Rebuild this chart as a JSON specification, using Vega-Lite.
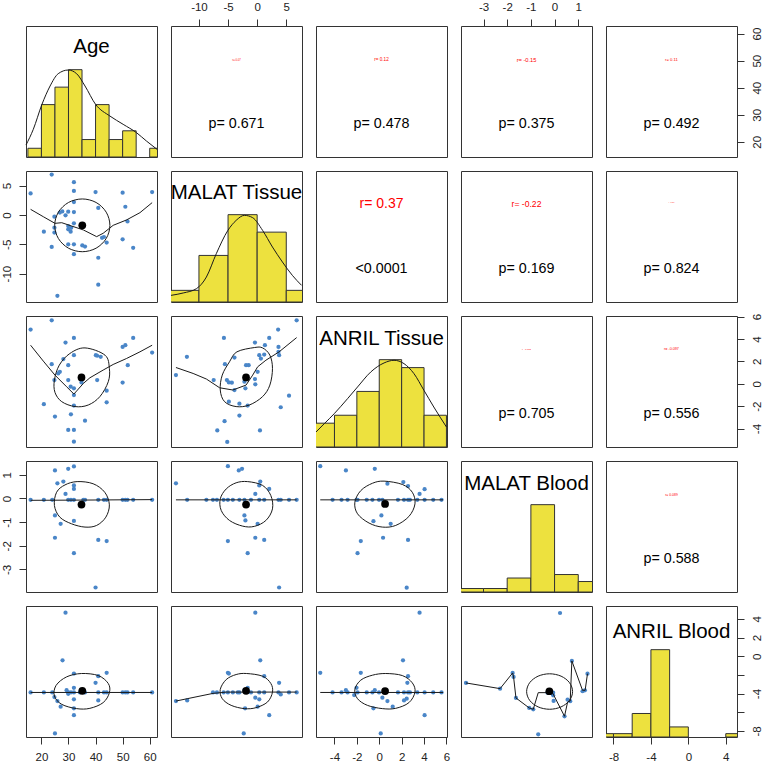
{
"$schema": "https://vega.github.io/schema/vega-lite/v6.json",
"padding": 0,
"columns": 5,
"spacing": 14,
"bounds": "flush",
"config": {
  "view": {"stroke": "#333333", "strokeWidth": 1},
  "font": "Liberation Sans",
  "axis": {"grid": false, "domain": false, "tickSize": 7, "tickColor": "#333333", "tickWidth": 1, "labelFontSize": 11.5, "labelColor": "#222222", "labelPadding": 7, "labelFont": "Liberation Sans", "labelFlush": false, "labelOverlap": false, "title": null},
  "text": {"font": "Liberation Sans", "baseline": "middle", "align": "center"}
},
"concat": [
{
  "width": 131, "height": 131,
  "encoding": {
    "x": {"field": "x", "type": "quantitative", "scale": {"domain": [14.3, 62.7], "nice": false, "zero": false}, "axis": null},
    "y": {"field": "y", "type": "quantitative", "scale": {"domain": [0, 15], "nice": false, "zero": false}, "axis": null}
  },
  "layer": [
    {"data": {"values": [{"x":15,"x2":20,"y":1},{"x":20,"x2":25,"y":6},{"x":25,"x2":30,"y":8},{"x":30,"x2":35,"y":10},{"x":35,"x2":40,"y":2},{"x":40,"x2":45,"y":6},{"x":45,"x2":50,"y":2},{"x":50,"x2":55,"y":3},{"x":60,"x2":65,"y":1}]},
     "mark": {"type": "bar", "fill": "#EDE13E", "stroke": "#333333", "strokeWidth": 1, "clip": true},
     "encoding": {"x2": {"field": "x2"}, "y2": {"datum": 0}}},
    {"data": {"values": [{"x":14.3,"y":1.37},{"x":17.0,"y":3.17},{"x":20.1,"y":5.95},{"x":23.2,"y":8.13},{"x":26.2,"y":9.54},{"x":29.9,"y":9.96},{"x":33.0,"y":9.54},{"x":36.1,"y":8.13},{"x":40.0,"y":6.03},{"x":45.3,"y":4.69},{"x":50.2,"y":3.74},{"x":55.1,"y":2.79},{"x":58.8,"y":1.83},{"x":62.7,"y":0.88}]},
     "mark": {"type": "line", "color": "#1a1a1a", "strokeWidth": 1, "interpolate": "monotone"}},
    {"data": {"values": [{"x":38.5,"y":12.6,"label":"Age"}]},
     "mark": {"type": "text", "fontSize": 20.5, "color": "black"},
     "encoding": {"text": {"field": "label", "type": "nominal"}}}
  ]
},
{
  "width": 131, "height": 131,
  "encoding": {
    "x": {"field": "x", "type": "quantitative", "scale": {"domain": [-14.8, 7.7], "nice": false, "zero": false}, "axis": {"orient": "top", "values": [-10,-5,0,5], "labelExpr": "datum.value + ''"}},
    "y": {"field": "y", "type": "quantitative", "scale": {"domain": [14.4, 62.8], "nice": false, "zero": false}, "axis": null},
    "text": {"field": "label", "type": "nominal"}
  },
  "layer": [
    {"data": {"values": [{"x":-3.55,"y":50.2,"label":"r= 0.07"}]}, "mark": {"type": "text", "color": "red", "fontSize": 2.7}},
    {"data": {"values": [{"x":-3.55,"y":26.6,"label":"p= 0.671"}]}, "mark": {"type": "text", "color": "black", "fontSize": 14.3}}
  ]
},
{
  "width": 131, "height": 131,
  "encoding": {
    "x": {"field": "x", "type": "quantitative", "scale": {"domain": [-5.65, 6.05], "nice": false, "zero": false}, "axis": null},
    "y": {"field": "y", "type": "quantitative", "scale": {"domain": [14.4, 62.8], "nice": false, "zero": false}, "axis": null},
    "text": {"field": "label", "type": "nominal"}
  },
  "layer": [
    {"data": {"values": [{"x":0.2,"y":50.2,"label":"r= 0.12"}]}, "mark": {"type": "text", "color": "red", "fontSize": 4.6}},
    {"data": {"values": [{"x":0.2,"y":26.6,"label":"p= 0.478"}]}, "mark": {"type": "text", "color": "black", "fontSize": 14.3}}
  ]
},
{
  "width": 131, "height": 131,
  "encoding": {
    "x": {"field": "x", "type": "quantitative", "scale": {"domain": [-3.95, 1.58], "nice": false, "zero": false}, "axis": {"orient": "top", "values": [-3,-2,-1,0,1], "labelExpr": "datum.value + ''"}},
    "y": {"field": "y", "type": "quantitative", "scale": {"domain": [14.4, 62.8], "nice": false, "zero": false}, "axis": null},
    "text": {"field": "label", "type": "nominal"}
  },
  "layer": [
    {"data": {"values": [{"x":-1.185,"y":50.2,"label":"r= -0.15"}]}, "mark": {"type": "text", "color": "red", "fontSize": 5.7}},
    {"data": {"values": [{"x":-1.185,"y":26.6,"label":"p= 0.375"}]}, "mark": {"type": "text", "color": "black", "fontSize": 14.3}}
  ]
},
{
  "width": 131, "height": 131,
  "encoding": {
    "x": {"field": "x", "type": "quantitative", "scale": {"domain": [-8.8, 5.2], "nice": false, "zero": false}, "axis": null},
    "y": {"field": "y", "type": "quantitative", "scale": {"domain": [14.4, 62.8], "nice": false, "zero": false}, "axis": {"orient": "right", "values": [20,30,40,50,60], "labelAngle": -90, "labelAlign": "center", "labelBaseline": "top", "labelExpr": "datum.value + ''"}},
    "text": {"field": "label", "type": "nominal"}
  },
  "layer": [
    {"data": {"values": [{"x":-1.8,"y":50.2,"label":"r= 0.11"}]}, "mark": {"type": "text", "color": "red", "fontSize": 4.2}},
    {"data": {"values": [{"x":-1.8,"y":26.6,"label":"p= 0.492"}]}, "mark": {"type": "text", "color": "black", "fontSize": 14.3}}
  ]
},
{
  "width": 131, "height": 131,
  "encoding": {
    "x": {"field": "x", "type": "quantitative", "scale": {"domain": [14.3, 62.7], "nice": false, "zero": false}, "axis": null},
    "y": {"field": "y", "type": "quantitative", "scale": {"domain": [-14.85, 7.5], "nice": false, "zero": false}, "axis": {"orient": "left", "values": [-10,-5,0,5], "labelAngle": -90, "labelAlign": "center", "labelBaseline": "bottom", "labelExpr": "datum.value + ''"}}
  },
  "layer": [
    {"data": {"values": [{"x":23.8,"y":6.9},{"x":16.0,"y":3.68},{"x":32.0,"y":5.6},{"x":32.0,"y":4.1},{"x":40.0,"y":3.9},{"x":50.0,"y":3.8},{"x":60.9,"y":3.9},{"x":51.0,"y":1.4},{"x":41.0,"y":1.2},{"x":32.0,"y":2.2},{"x":51.8,"y":-1.1},{"x":24.8,"y":-0.3},{"x":26.8,"y":0.4},{"x":27.7,"y":0.6},{"x":29.9,"y":0.56},{"x":32.0,"y":0.5},{"x":28.9,"y":-0.07},{"x":24.8,"y":-2.17},{"x":24.8,"y":-3.0},{"x":20.9,"y":-2.85},{"x":29.9,"y":-1.9},{"x":29.9,"y":-2.45},{"x":30.8,"y":-2.85},{"x":32.0,"y":-1.43},{"x":35.1,"y":-5.2},{"x":36.1,"y":-5.4},{"x":32.0,"y":-5.0},{"x":29.9,"y":-5.0},{"x":23.8,"y":-5.46},{"x":32.0,"y":-6.7},{"x":41.0,"y":-7.3},{"x":43.1,"y":-3.76},{"x":44.1,"y":-4.7},{"x":50.0,"y":-4.15},{"x":53.9,"y":-5.6},{"x":41.0,"y":-11.9},{"x":25.9,"y":-13.8},{"x":42.4,"y":-3.9},{"x":31.0,"y":-2.2}]},
     "mark": {"type": "circle", "size": 18, "color": "#4A86C8", "opacity": 1}},
    {"data": {"values": [{"x":16.0,"y":0.96},{"x":20.7,"y":-0.3},{"x":25.0,"y":-1.43},{"x":27.5,"y":-1.32},{"x":31.1,"y":-1.88},{"x":35.5,"y":-2.56},{"x":40.4,"y":-3.7},{"x":42.8,"y":-3.13},{"x":46.5,"y":-1.77},{"x":51.4,"y":-0.86},{"x":56.4,"y":0.39},{"x":60.9,"y":2.1}]},
     "mark": {"type": "line", "color": "#1a1a1a", "strokeWidth": 1}},
    {"data": {"values": [{"i":0,"x":45.3,"y":-1.77},{"i":1,"x":43.93,"y":0.48},{"i":2,"x":40.2,"y":2.13},{"i":3,"x":35.1,"y":2.73},{"i":4,"x":30.0,"y":2.13},{"i":5,"x":26.27,"y":0.48},{"i":6,"x":24.9,"y":-1.77},{"i":7,"x":26.27,"y":-4.02},{"i":8,"x":30.0,"y":-5.67},{"i":9,"x":35.1,"y":-6.27},{"i":10,"x":40.2,"y":-5.67},{"i":11,"x":43.93,"y":-4.02}]},
     "mark": {"type": "line", "color": "#1a1a1a", "strokeWidth": 1, "interpolate": "cardinal-closed"},
     "encoding": {"order": {"field": "i", "type": "quantitative"}}},
    {"data": {"values": [{"x":35.1,"y":-1.77}]},
     "mark": {"type": "circle", "size": 60, "color": "black", "opacity": 1}}
  ]
},
{
  "width": 131, "height": 131,
  "encoding": {
    "x": {"field": "x", "type": "quantitative", "scale": {"domain": [-14.8, 7.7], "nice": false, "zero": false}, "axis": null},
    "y": {"field": "y", "type": "quantitative", "scale": {"domain": [0, 22.5], "nice": false, "zero": false}, "axis": null}
  },
  "layer": [
    {"data": {"values": [{"x":-15,"x2":-10,"y":2},{"x":-10,"x2":-5,"y":8},{"x":-5,"x2":0,"y":15},{"x":0,"x2":5,"y":12},{"x":5,"x2":10,"y":2}]},
     "mark": {"type": "bar", "fill": "#EDE13E", "stroke": "#333333", "strokeWidth": 1, "clip": true},
     "encoding": {"x2": {"field": "x2"}, "y2": {"datum": 0}}},
    {"data": {"values": [{"x":-14.8,"y":1.14},{"x":-12.7,"y":1.55},{"x":-10.43,"y":2.29},{"x":-8.72,"y":4.29},{"x":-7.02,"y":8.3},{"x":-5.03,"y":12.3},{"x":-3.61,"y":14.02},{"x":-2.19,"y":14.88},{"x":-0.77,"y":14.48},{"x":0.93,"y":12.3},{"x":2.63,"y":9.44},{"x":4.34,"y":6.87},{"x":6.04,"y":4.58},{"x":7.63,"y":2.86}]},
     "mark": {"type": "line", "color": "#1a1a1a", "strokeWidth": 1, "interpolate": "monotone"}},
    {"data": {"values": [{"x":-3.55,"y":18.7,"label":"MALAT Tissue"}]},
     "mark": {"type": "text", "fontSize": 20.5, "color": "black"},
     "encoding": {"text": {"field": "label", "type": "nominal"}}}
  ]
},
{
  "width": 131, "height": 131,
  "encoding": {
    "x": {"field": "x", "type": "quantitative", "scale": {"domain": [-5.65, 6.05], "nice": false, "zero": false}, "axis": null},
    "y": {"field": "y", "type": "quantitative", "scale": {"domain": [-14.85, 7.5], "nice": false, "zero": false}, "axis": null},
    "text": {"field": "label", "type": "nominal"}
  },
  "layer": [
    {"data": {"values": [{"x":0.2,"y":1.92,"label":"r= 0.37"}]}, "mark": {"type": "text", "color": "red", "fontSize": 14}},
    {"data": {"values": [{"x":0.2,"y":-9.14,"label":"<0.0001"}]}, "mark": {"type": "text", "color": "black", "fontSize": 14.3}}
  ]
},
{
  "width": 131, "height": 131,
  "encoding": {
    "x": {"field": "x", "type": "quantitative", "scale": {"domain": [-3.95, 1.58], "nice": false, "zero": false}, "axis": null},
    "y": {"field": "y", "type": "quantitative", "scale": {"domain": [-14.85, 7.5], "nice": false, "zero": false}, "axis": null},
    "text": {"field": "label", "type": "nominal"}
  },
  "layer": [
    {"data": {"values": [{"x":-1.185,"y":1.92,"label":"r= -0.22"}]}, "mark": {"type": "text", "color": "red", "fontSize": 8.6}},
    {"data": {"values": [{"x":-1.185,"y":-9.14,"label":"p= 0.169"}]}, "mark": {"type": "text", "color": "black", "fontSize": 14.3}}
  ]
},
{
  "width": 131, "height": 131,
  "encoding": {
    "x": {"field": "x", "type": "quantitative", "scale": {"domain": [-8.8, 5.2], "nice": false, "zero": false}, "axis": null},
    "y": {"field": "y", "type": "quantitative", "scale": {"domain": [-14.85, 7.5], "nice": false, "zero": false}, "axis": null},
    "text": {"field": "label", "type": "nominal"}
  },
  "layer": [
    {"data": {"values": [{"x":-1.8,"y":1.92,"label":"r= 0.037"}]}, "mark": {"type": "text", "color": "red", "fontSize": 1.5}},
    {"data": {"values": [{"x":-1.8,"y":-9.14,"label":"p= 0.824"}]}, "mark": {"type": "text", "color": "black", "fontSize": 14.3}}
  ]
},
{
  "width": 131, "height": 131,
  "encoding": {
    "x": {"field": "x", "type": "quantitative", "scale": {"domain": [14.3, 62.7], "nice": false, "zero": false}, "axis": null},
    "y": {"field": "y", "type": "quantitative", "scale": {"domain": [-5.65, 6.05], "nice": false, "zero": false}, "axis": null}
  },
  "layer": [
    {"data": {"values": [{"x":23.8,"y":5.67},{"x":16.0,"y":4.84},{"x":32.0,"y":4.09},{"x":28.9,"y":3.68},{"x":53.9,"y":4.09},{"x":50.0,"y":3.29},{"x":51.0,"y":3.44},{"x":60.9,"y":2.78},{"x":40.1,"y":2.55},{"x":40.6,"y":2.5},{"x":41.9,"y":2.4},{"x":32.0,"y":2.55},{"x":28.1,"y":2.2},{"x":29.9,"y":1.66},{"x":23.8,"y":1.75},{"x":26.8,"y":1.07},{"x":26.2,"y":0.92},{"x":24.8,"y":0.33},{"x":29.9,"y":0.33},{"x":34.8,"y":0.12},{"x":51.9,"y":1.66},{"x":40.6,"y":0.33},{"x":50.0,"y":0.1},{"x":32.0,"y":-0.41},{"x":30.8,"y":-0.26},{"x":44.1,"y":-0.62},{"x":44.1,"y":-1.66},{"x":20.9,"y":-1.83},{"x":32.0,"y":-1.95},{"x":25.0,"y":-2.93},{"x":30.9,"y":-2.73},{"x":36.1,"y":-3.3},{"x":29.9,"y":-4.13},{"x":32.0,"y":-4.13},{"x":32.0,"y":-5.17},{"x":32.0,"y":-1.01}]},
     "mark": {"type": "circle", "size": 18, "color": "#4A86C8", "opacity": 1}},
    {"data": {"values": [{"x":16.0,"y":3.44},{"x":20.7,"y":2.02},{"x":25.0,"y":0.77},{"x":29.3,"y":-0.27},{"x":32.0,"y":-0.92},{"x":35.5,"y":0.03},{"x":37.9,"y":0.53},{"x":42.8,"y":1.22},{"x":46.5,"y":1.72},{"x":51.4,"y":2.25},{"x":56.4,"y":2.85},{"x":60.9,"y":3.44}]},
     "mark": {"type": "line", "color": "#1a1a1a", "strokeWidth": 1}},
    {"data": {"values": [{"i":0,"x":36.1,"y":3.2},{"i":1,"x":43.5,"y":2.55},{"i":2,"x":45.1,"y":1.37},{"i":3,"x":44.7,"y":0.18},{"i":4,"x":41.6,"y":-1.15},{"i":5,"x":37.3,"y":-1.9},{"i":6,"x":32.4,"y":-2.04},{"i":7,"x":27.5,"y":-1.6},{"i":8,"x":25.0,"y":-0.77},{"i":9,"x":24.8,"y":0.33},{"i":10,"x":26.6,"y":1.66},{"i":11,"x":30.5,"y":2.7}]},
     "mark": {"type": "line", "color": "#1a1a1a", "strokeWidth": 1, "interpolate": "cardinal-closed"},
     "encoding": {"order": {"field": "i", "type": "quantitative"}}},
    {"data": {"values": [{"x":34.8,"y":0.56}]},
     "mark": {"type": "circle", "size": 60, "color": "black", "opacity": 1}}
  ]
},
{
  "width": 131, "height": 131,
  "encoding": {
    "x": {"field": "x", "type": "quantitative", "scale": {"domain": [-14.8, 7.7], "nice": false, "zero": false}, "axis": null},
    "y": {"field": "y", "type": "quantitative", "scale": {"domain": [-5.65, 6.05], "nice": false, "zero": false}, "axis": null}
  },
  "layer": [
    {"data": {"values": [{"x":6.78,"y":5.67},{"x":3.6,"y":4.84},{"x":2.07,"y":4.09},{"x":-0.38,"y":3.68},{"x":-5.71,"y":4.09},{"x":1.33,"y":3.44},{"x":3.66,"y":3.29},{"x":3.66,"y":2.85},{"x":3.77,"y":2.55},{"x":0.36,"y":2.55},{"x":1.21,"y":2.61},{"x":0.64,"y":2.25},{"x":-3.9,"y":2.34},{"x":-5.54,"y":1.75},{"x":-1.91,"y":1.66},{"x":-1.46,"y":1.66},{"x":-12.07,"y":2.4},{"x":-13.95,"y":0.77},{"x":-7.47,"y":0.33},{"x":-5.2,"y":0.33},{"x":-4.86,"y":0.12},{"x":-4.35,"y":0.09},{"x":-2.19,"y":0.18},{"x":0.08,"y":1.07},{"x":-0.38,"y":0.42},{"x":-2.02,"y":-0.41},{"x":-3.9,"y":-0.56},{"x":-4.86,"y":-1.6},{"x":-3.05,"y":-1.78},{"x":-1.63,"y":-1.95},{"x":-3.05,"y":-2.84},{"x":-5.6,"y":-3.34},{"x":-6.85,"y":-4.17},{"x":-5.14,"y":-5.2},{"x":0.48,"y":-4.17},{"x":5.47,"y":-1.07},{"x":4.05,"y":-2.1},{"x":-0.32,"y":-0.05}]},
     "mark": {"type": "circle", "size": 18, "color": "#4A86C8", "opacity": 1}},
    {"data": {"values": [{"x":-13.95,"y":1.45},{"x":-11.0,"y":0.92},{"x":-8.72,"y":0.42},{"x":-6.45,"y":-0.36},{"x":-4.18,"y":-0.56},{"x":-1.91,"y":-0.12},{"x":-0.77,"y":0.77},{"x":0.08,"y":1.51},{"x":1.5,"y":2.1},{"x":3.77,"y":2.85},{"x":6.78,"y":4.12}]},
     "mark": {"type": "line", "color": "#1a1a1a", "strokeWidth": 1}},
    {"data": {"values": [{"i":0,"x":0.93,"y":3.2},{"i":1,"x":2.18,"y":2.55},{"i":2,"x":2.63,"y":1.37},{"i":3,"x":2.18,"y":-0.12},{"i":4,"x":0.93,"y":-1.15},{"i":5,"x":-1.34,"y":-1.9},{"i":6,"x":-3.61,"y":-2.04},{"i":7,"x":-5.6,"y":-1.6},{"i":8,"x":-6.34,"y":-0.56},{"i":9,"x":-6.0,"y":0.77},{"i":10,"x":-4.75,"y":1.96},{"i":11,"x":-3.48,"y":2.85},{"i":12,"x":-0.49,"y":3.23}]},
     "mark": {"type": "line", "color": "#1a1a1a", "strokeWidth": 1, "interpolate": "cardinal-closed"},
     "encoding": {"order": {"field": "i", "type": "quantitative"}}},
    {"data": {"values": [{"x":-1.91,"y":0.56}]},
     "mark": {"type": "circle", "size": 60, "color": "black", "opacity": 1}}
  ]
},
{
  "width": 131, "height": 131,
  "encoding": {
    "x": {"field": "x", "type": "quantitative", "scale": {"domain": [-5.65, 6.05], "nice": false, "zero": false}, "axis": null},
    "y": {"field": "y", "type": "quantitative", "scale": {"domain": [0, 16.5], "nice": false, "zero": false}, "axis": null}
  },
  "layer": [
    {"data": {"values": [{"x":-6,"x2":-4,"y":3},{"x":-4,"x2":-2,"y":4},{"x":-2,"x2":0,"y":7},{"x":0,"x2":2,"y":11},{"x":2,"x2":4,"y":10},{"x":4,"x2":6,"y":4}]},
     "mark": {"type": "bar", "fill": "#EDE13E", "stroke": "#333333", "strokeWidth": 1, "clip": true},
     "encoding": {"x2": {"field": "x2"}, "y2": {"datum": 0}}},
    {"data": {"values": [{"x":-5.65,"y":1.89},{"x":-4.91,"y":2.94},{"x":-4.02,"y":4.2},{"x":-2.83,"y":6.09},{"x":-1.94,"y":7.56},{"x":-0.76,"y":9.45},{"x":0.43,"y":10.59},{"x":1.32,"y":10.92},{"x":2.21,"y":10.5},{"x":3.1,"y":9.24},{"x":3.99,"y":7.14},{"x":4.87,"y":5.04},{"x":6.0,"y":2.52}]},
     "mark": {"type": "line", "color": "#1a1a1a", "strokeWidth": 1, "interpolate": "monotone"}},
    {"data": {"values": [{"x":0.2,"y":13.65,"label":"ANRIL Tissue"}]},
     "mark": {"type": "text", "fontSize": 20.5, "color": "black"},
     "encoding": {"text": {"field": "label", "type": "nominal"}}}
  ]
},
{
  "width": 131, "height": 131,
  "encoding": {
    "x": {"field": "x", "type": "quantitative", "scale": {"domain": [-3.95, 1.58], "nice": false, "zero": false}, "axis": null},
    "y": {"field": "y", "type": "quantitative", "scale": {"domain": [-5.65, 6.05], "nice": false, "zero": false}, "axis": null},
    "text": {"field": "label", "type": "nominal"}
  },
  "layer": [
    {"data": {"values": [{"x":-1.185,"y":3.08,"label":"r= 0.063"}]}, "mark": {"type": "text", "color": "red", "fontSize": 2.4}},
    {"data": {"values": [{"x":-1.185,"y":-2.66,"label":"p= 0.705"}]}, "mark": {"type": "text", "color": "black", "fontSize": 14.3}}
  ]
},
{
  "width": 131, "height": 131,
  "encoding": {
    "x": {"field": "x", "type": "quantitative", "scale": {"domain": [-8.8, 5.2], "nice": false, "zero": false}, "axis": null},
    "y": {"field": "y", "type": "quantitative", "scale": {"domain": [-5.65, 6.05], "nice": false, "zero": false}, "axis": {"orient": "right", "values": [-4,-2,0,2,4,6], "labelAngle": -90, "labelAlign": "center", "labelBaseline": "top", "labelExpr": "datum.value + ''"}},
    "text": {"field": "label", "type": "nominal"}
  },
  "layer": [
    {"data": {"values": [{"x":-1.8,"y":3.08,"label":"r= -0.097"}]}, "mark": {"type": "text", "color": "red", "fontSize": 3.7}},
    {"data": {"values": [{"x":-1.8,"y":-2.66,"label":"p= 0.556"}]}, "mark": {"type": "text", "color": "black", "fontSize": 14.3}}
  ]
},
{
  "width": 131, "height": 131,
  "encoding": {
    "x": {"field": "x", "type": "quantitative", "scale": {"domain": [14.3, 62.7], "nice": false, "zero": false}, "axis": null},
    "y": {"field": "y", "type": "quantitative", "scale": {"domain": [-3.95, 1.58], "nice": false, "zero": false}, "axis": {"orient": "left", "values": [-3,-2,-1,0,1], "labelAngle": -90, "labelAlign": "center", "labelBaseline": "bottom", "labelExpr": "datum.value + ''"}}
  },
  "layer": [
    {"data": {"values": [{"x":16.0,"y":-0.06},{"x":20.9,"y":-0.06},{"x":24.0,"y":-0.06},{"x":25.0,"y":1.18},{"x":29.9,"y":1.25},{"x":32.0,"y":1.35},{"x":25.9,"y":0.64},{"x":28.1,"y":0.71},{"x":32.0,"y":0.55},{"x":32.0,"y":0.4},{"x":28.9,"y":0.19},{"x":29.9,"y":-0.06},{"x":30.9,"y":-0.06},{"x":32.0,"y":-0.06},{"x":35.5,"y":-0.06},{"x":36.1,"y":-0.06},{"x":41.0,"y":-0.06},{"x":43.1,"y":-0.06},{"x":44.1,"y":-0.06},{"x":50.0,"y":-0.06},{"x":51.0,"y":-0.06},{"x":51.8,"y":-0.06},{"x":53.9,"y":-0.06},{"x":60.9,"y":-0.06},{"x":25.0,"y":-0.72},{"x":27.1,"y":-1.07},{"x":32.0,"y":-0.95},{"x":25.0,"y":-1.66},{"x":41.0,"y":-1.75},{"x":44.1,"y":-1.8},{"x":32.0,"y":-2.31},{"x":40.0,"y":-3.76}]},
     "mark": {"type": "circle", "size": 18, "color": "#4A86C8", "opacity": 1}},
    {"data": {"values": [{"x":16.0,"y":-0.08},{"x":35.0,"y":-0.07},{"x":60.9,"y":-0.05}]},
     "mark": {"type": "line", "color": "#1a1a1a", "strokeWidth": 1}},
    {"data": {"values": [{"i":0,"x":33.2,"y":0.71},{"i":1,"x":39.1,"y":0.62},{"i":2,"x":43.4,"y":0.26},{"i":3,"x":45.1,"y":-0.27},{"i":4,"x":43.8,"y":-0.79},{"i":5,"x":40.4,"y":-1.14},{"i":6,"x":36.1,"y":-1.21},{"i":7,"x":31.1,"y":-1.07},{"i":8,"x":26.8,"y":-0.79},{"i":9,"x":24.8,"y":-0.3},{"i":10,"x":25.6,"y":0.26},{"i":11,"x":28.7,"y":0.57}]},
     "mark": {"type": "line", "color": "#1a1a1a", "strokeWidth": 1, "interpolate": "cardinal-closed"},
     "encoding": {"order": {"field": "i", "type": "quantitative"}}},
    {"data": {"values": [{"x":34.8,"y":-0.26}]},
     "mark": {"type": "circle", "size": 60, "color": "black", "opacity": 1}}
  ]
},
{
  "width": 131, "height": 131,
  "encoding": {
    "x": {"field": "x", "type": "quantitative", "scale": {"domain": [-14.8, 7.7], "nice": false, "zero": false}, "axis": null},
    "y": {"field": "y", "type": "quantitative", "scale": {"domain": [-3.95, 1.58], "nice": false, "zero": false}, "axis": null}
  },
  "layer": [
    {"data": {"values": [{"x":-13.95,"y":0.64},{"x":-12.02,"y":-0.06},{"x":-8.72,"y":-0.06},{"x":-7.59,"y":-0.06},{"x":-6.91,"y":-0.06},{"x":-5.77,"y":-0.06},{"x":-5.03,"y":-0.06},{"x":-4.18,"y":-0.06},{"x":-3.05,"y":-0.06},{"x":-2.19,"y":-0.06},{"x":-1.06,"y":-0.06},{"x":0.36,"y":-0.06},{"x":1.21,"y":-0.06},{"x":3.66,"y":-0.06},{"x":4.05,"y":-0.06},{"x":5.47,"y":-0.06},{"x":6.78,"y":-0.06},{"x":-5.03,"y":1.36},{"x":-3.16,"y":1.18},{"x":-2.6,"y":1.25},{"x":0.53,"y":0.71},{"x":0.36,"y":0.55},{"x":2.07,"y":0.4},{"x":-0.32,"y":0.19},{"x":-2.19,"y":-0.72},{"x":-2.02,"y":-0.93},{"x":0.08,"y":-1.07},{"x":-5.03,"y":-1.8},{"x":-0.32,"y":-1.66},{"x":1.21,"y":-1.75},{"x":-1.63,"y":-2.31},{"x":3.77,"y":-3.76}]},
     "mark": {"type": "circle", "size": 18, "color": "#4A86C8", "opacity": 1}},
    {"data": {"values": [{"x":-13.95,"y":-0.06},{"x":6.78,"y":-0.06}]},
     "mark": {"type": "line", "color": "#1a1a1a", "strokeWidth": 1}},
    {"data": {"values": [{"i":0,"x":-1.63,"y":0.71},{"i":1,"x":0.93,"y":0.55},{"i":2,"x":2.35,"y":0.12},{"i":3,"x":2.63,"y":-0.44},{"i":4,"x":1.5,"y":-0.93},{"i":5,"x":-0.49,"y":-1.18},{"i":6,"x":-2.48,"y":-1.17},{"i":7,"x":-4.75,"y":-0.93},{"i":8,"x":-6.17,"y":-0.51},{"i":9,"x":-6.34,"y":-0.02},{"i":10,"x":-5.32,"y":0.4},{"i":11,"x":-3.61,"y":0.66}]},
     "mark": {"type": "line", "color": "#1a1a1a", "strokeWidth": 1, "interpolate": "cardinal-closed"},
     "encoding": {"order": {"field": "i", "type": "quantitative"}}},
    {"data": {"values": [{"x":-1.91,"y":-0.26}]},
     "mark": {"type": "circle", "size": 60, "color": "black", "opacity": 1}}
  ]
},
{
  "width": 131, "height": 131,
  "encoding": {
    "x": {"field": "x", "type": "quantitative", "scale": {"domain": [-5.65, 6.05], "nice": false, "zero": false}, "axis": null},
    "y": {"field": "y", "type": "quantitative", "scale": {"domain": [-3.95, 1.58], "nice": false, "zero": false}, "axis": null}
  },
  "layer": [
    {"data": {"values": [{"x":-5.27,"y":1.36},{"x":-2.98,"y":1.18},{"x":-0.4,"y":1.25},{"x":0.73,"y":0.62},{"x":2.15,"y":0.69},{"x":2.57,"y":0.52},{"x":4.05,"y":0.39},{"x":3.6,"y":0.19},{"x":-4.17,"y":-0.06},{"x":-3.37,"y":-0.06},{"x":-2.83,"y":-0.06},{"x":-2.03,"y":-0.06},{"x":-1.94,"y":-0.06},{"x":-1.12,"y":-0.06},{"x":-0.61,"y":-0.06},{"x":-0.02,"y":-0.06},{"x":0.28,"y":-0.06},{"x":1.67,"y":-0.06},{"x":2.21,"y":-0.06},{"x":2.57,"y":-0.06},{"x":2.74,"y":-0.06},{"x":3.4,"y":-0.06},{"x":4.05,"y":-0.06},{"x":4.82,"y":-0.06},{"x":5.56,"y":-0.06},{"x":-0.52,"y":-0.96},{"x":0.19,"y":-0.72},{"x":1.02,"y":-1.07},{"x":-1.65,"y":-1.8},{"x":0.34,"y":-1.66},{"x":2.57,"y":-1.75},{"x":-1.94,"y":-2.31},{"x":2.45,"y":-3.77}]},
     "mark": {"type": "circle", "size": 18, "color": "#4A86C8", "opacity": 1}},
    {"data": {"values": [{"x":-5.27,"y":-0.06},{"x":5.7,"y":-0.06}]},
     "mark": {"type": "line", "color": "#1a1a1a", "strokeWidth": 1}},
    {"data": {"values": [{"i":0,"x":0.43,"y":0.73},{"i":1,"x":2.06,"y":0.59},{"i":2,"x":2.95,"y":0.26},{"i":3,"x":3.19,"y":-0.23},{"i":4,"x":2.65,"y":-0.76},{"i":5,"x":1.47,"y":-1.14},{"i":6,"x":0.28,"y":-1.21},{"i":7,"x":-0.91,"y":-1.04},{"i":8,"x":-1.94,"y":-0.65},{"i":9,"x":-2.18,"y":-0.16},{"i":10,"x":-1.65,"y":0.33},{"i":11,"x":-0.61,"y":0.64}]},
     "mark": {"type": "line", "color": "#1a1a1a", "strokeWidth": 1, "interpolate": "cardinal-closed"},
     "encoding": {"order": {"field": "i", "type": "quantitative"}}},
    {"data": {"values": [{"x":0.52,"y":-0.23}]},
     "mark": {"type": "circle", "size": 60, "color": "black", "opacity": 1}}
  ]
},
{
  "width": 131, "height": 131,
  "encoding": {
    "x": {"field": "x", "type": "quantitative", "scale": {"domain": [-3.95, 1.58], "nice": false, "zero": false}, "axis": null},
    "y": {"field": "y", "type": "quantitative", "scale": {"domain": [0, 37.5], "nice": false, "zero": false}, "axis": null}
  },
  "layer": [
    {"data": {"values": [{"x":-4,"x2":-3,"y":1},{"x":-3,"x2":-2,"y":1},{"x":-2,"x2":-1,"y":4},{"x":-1,"x2":0,"y":25},{"x":0,"x2":1,"y":5},{"x":1,"x2":2,"y":3}]},
     "mark": {"type": "bar", "fill": "#EDE13E", "stroke": "#333333", "strokeWidth": 1, "clip": true},
     "encoding": {"x2": {"field": "x2"}, "y2": {"datum": 0}}},
    {"data": {"values": [{"x":-1.185,"y":30.9,"label":"MALAT Blood"}]},
     "mark": {"type": "text", "fontSize": 20.5, "color": "black"},
     "encoding": {"text": {"field": "label", "type": "nominal"}}}
  ]
},
{
  "width": 131, "height": 131,
  "encoding": {
    "x": {"field": "x", "type": "quantitative", "scale": {"domain": [-8.8, 5.2], "nice": false, "zero": false}, "axis": null},
    "y": {"field": "y", "type": "quantitative", "scale": {"domain": [-3.95, 1.58], "nice": false, "zero": false}, "axis": null},
    "text": {"field": "label", "type": "nominal"}
  },
  "layer": [
    {"data": {"values": [{"x":-1.8,"y":0.145,"label":"r= 0.089"}]}, "mark": {"type": "text", "color": "red", "fontSize": 3.4}},
    {"data": {"values": [{"x":-1.8,"y":-2.57,"label":"p= 0.588"}]}, "mark": {"type": "text", "color": "black", "fontSize": 14.3}}
  ]
},
{
  "width": 131, "height": 131,
  "encoding": {
    "x": {"field": "x", "type": "quantitative", "scale": {"domain": [14.3, 62.7], "nice": false, "zero": false}, "axis": {"orient": "bottom", "values": [20,30,40,50,60], "labelExpr": "datum.value + ''"}},
    "y": {"field": "y", "type": "quantitative", "scale": {"domain": [-8.65, 5.38], "nice": false, "zero": false}, "axis": null}
  },
  "layer": [
    {"data": {"values": [{"x":28.9,"y":4.67},{"x":27.8,"y":-0.44},{"x":32.0,"y":-1.85},{"x":41.0,"y":-2.14},{"x":44.1,"y":-1.78},{"x":40.0,"y":-2.85},{"x":16.0,"y":-3.88},{"x":20.9,"y":-3.88},{"x":24.0,"y":-3.88},{"x":29.3,"y":-3.63},{"x":29.9,"y":-3.88},{"x":30.9,"y":-3.88},{"x":32.0,"y":-3.38},{"x":32.0,"y":-3.88},{"x":36.1,"y":-3.88},{"x":41.0,"y":-3.88},{"x":43.1,"y":-3.88},{"x":44.1,"y":-3.88},{"x":50.0,"y":-3.88},{"x":51.0,"y":-3.88},{"x":51.8,"y":-3.88},{"x":53.9,"y":-3.88},{"x":60.9,"y":-3.88},{"x":24.8,"y":-4.37},{"x":25.9,"y":-4.8},{"x":32.0,"y":-4.62},{"x":27.1,"y":-5.4},{"x":41.0,"y":-4.73},{"x":32.0,"y":-5.58},{"x":32.0,"y":-6.32},{"x":25.0,"y":-8.27},{"x":29.9,"y":-4.02},{"x":34.2,"y":-3.88}]},
     "mark": {"type": "circle", "size": 18, "color": "#4A86C8", "opacity": 1}},
    {"data": {"values": [{"x":16.0,"y":-3.88},{"x":60.9,"y":-3.88}]},
     "mark": {"type": "line", "color": "#1a1a1a", "strokeWidth": 1}},
    {"data": {"values": [{"i":0,"x":34.8,"y":-1.85},{"i":1,"x":41.0,"y":-2.07},{"i":2,"x":44.7,"y":-2.92},{"i":3,"x":45.1,"y":-3.91},{"i":4,"x":42.8,"y":-4.97},{"i":5,"x":37.9,"y":-5.58},{"i":6,"x":33.0,"y":-5.61},{"i":7,"x":27.5,"y":-5.15},{"i":8,"x":24.8,"y":-4.26},{"i":9,"x":25.4,"y":-3.13},{"i":10,"x":29.3,"y":-2.21}]},
     "mark": {"type": "line", "color": "#1a1a1a", "strokeWidth": 1, "interpolate": "cardinal-closed"},
     "encoding": {"order": {"field": "i", "type": "quantitative"}}},
    {"data": {"values": [{"x":35.1,"y":-3.7}]},
     "mark": {"type": "circle", "size": 60, "color": "black", "opacity": 1}}
  ]
},
{
  "width": 131, "height": 131,
  "encoding": {
    "x": {"field": "x", "type": "quantitative", "scale": {"domain": [-14.8, 7.7], "nice": false, "zero": false}, "axis": null},
    "y": {"field": "y", "type": "quantitative", "scale": {"domain": [-8.65, 5.38], "nice": false, "zero": false}, "axis": null}
  },
  "layer": [
    {"data": {"values": [{"x":-0.32,"y":4.67},{"x":0.53,"y":-0.44},{"x":-5.03,"y":-1.78},{"x":-4.86,"y":-1.85},{"x":1.21,"y":-2.14},{"x":3.77,"y":-2.85},{"x":-13.95,"y":-4.8},{"x":-12.02,"y":-4.73},{"x":-7.59,"y":-3.88},{"x":-6.91,"y":-3.88},{"x":-5.77,"y":-3.88},{"x":-5.03,"y":-3.88},{"x":-4.18,"y":-3.88},{"x":-3.05,"y":-3.88},{"x":-2.19,"y":-3.63},{"x":-1.63,"y":-3.38},{"x":-1.06,"y":-3.88},{"x":0.36,"y":-3.88},{"x":1.21,"y":-3.88},{"x":3.66,"y":-3.88},{"x":4.05,"y":-4.09},{"x":5.47,"y":-3.88},{"x":6.78,"y":-3.88},{"x":-0.32,"y":-4.44},{"x":0.36,"y":-4.62},{"x":0.08,"y":-5.4},{"x":-2.08,"y":-5.58},{"x":2.07,"y":-6.32},{"x":-2.31,"y":-8.27},{"x":-3.33,"y":-3.88}]},
     "mark": {"type": "circle", "size": 18, "color": "#4A86C8", "opacity": 1}},
    {"data": {"values": [{"x":-13.95,"y":-4.8},{"x":-12.02,"y":-4.55},{"x":-7.59,"y":-3.98},{"x":-5.32,"y":-3.84},{"x":6.78,"y":-3.84}]},
     "mark": {"type": "line", "color": "#1a1a1a", "strokeWidth": 1}},
    {"data": {"values": [{"i":0,"x":-1.8,"y":-1.85},{"i":1,"x":0.93,"y":-2.14},{"i":2,"x":2.35,"y":-2.92},{"i":3,"x":2.63,"y":-3.84},{"i":4,"x":1.78,"y":-4.9},{"i":5,"x":-0.21,"y":-5.51},{"i":6,"x":-2.19,"y":-5.61},{"i":7,"x":-4.47,"y":-5.26},{"i":8,"x":-5.99,"y":-4.55},{"i":9,"x":-6.34,"y":-3.56},{"i":10,"x":-5.32,"y":-2.5},{"i":11,"x":-3.61,"y":-1.96}]},
     "mark": {"type": "line", "color": "#1a1a1a", "strokeWidth": 1, "interpolate": "cardinal-closed"},
     "encoding": {"order": {"field": "i", "type": "quantitative"}}},
    {"data": {"values": [{"x":-1.91,"y":-3.7}]},
     "mark": {"type": "circle", "size": 60, "color": "black", "opacity": 1}}
  ]
},
{
  "width": 131, "height": 131,
  "encoding": {
    "x": {"field": "x", "type": "quantitative", "scale": {"domain": [-5.65, 6.05], "nice": false, "zero": false}, "axis": {"orient": "bottom", "values": [-4,-2,0,2,4,6], "labelExpr": "datum.value + ''"}},
    "y": {"field": "y", "type": "quantitative", "scale": {"domain": [-8.65, 5.38], "nice": false, "zero": false}, "axis": null}
  },
  "layer": [
    {"data": {"values": [{"x":3.6,"y":4.67},{"x":2.12,"y":-0.44},{"x":-5.27,"y":-1.78},{"x":-1.65,"y":-1.78},{"x":2.57,"y":-2.14},{"x":2.51,"y":-2.85},{"x":-4.17,"y":-3.88},{"x":-3.37,"y":-3.88},{"x":-2.98,"y":-3.63},{"x":-2.83,"y":-3.88},{"x":-2.03,"y":-3.38},{"x":-1.94,"y":-3.88},{"x":-2.24,"y":-4.16},{"x":-1.12,"y":-3.88},{"x":-0.61,"y":-3.88},{"x":-0.4,"y":-3.63},{"x":-0.02,"y":-3.88},{"x":0.28,"y":-4.44},{"x":0.73,"y":-4.8},{"x":1.67,"y":-3.88},{"x":2.21,"y":-3.88},{"x":2.57,"y":-3.88},{"x":2.45,"y":-4.55},{"x":2.21,"y":-4.73},{"x":2.74,"y":-3.88},{"x":3.4,"y":-3.88},{"x":4.05,"y":-3.88},{"x":4.82,"y":-3.88},{"x":5.56,"y":-3.88},{"x":-0.52,"y":-5.58},{"x":1.2,"y":-5.4},{"x":4.05,"y":-6.32},{"x":0.13,"y":-8.27}]},
     "mark": {"type": "circle", "size": 18, "color": "#4A86C8", "opacity": 1}},
    {"data": {"values": [{"x":-5.27,"y":-3.88},{"x":5.7,"y":-3.88}]},
     "mark": {"type": "line", "color": "#1a1a1a", "strokeWidth": 1}},
    {"data": {"values": [{"i":0,"x":0.58,"y":-1.85},{"i":1,"x":2.06,"y":-2.07},{"i":2,"x":2.95,"y":-2.85},{"i":3,"x":3.19,"y":-3.84},{"i":4,"x":2.65,"y":-4.97},{"i":5,"x":1.47,"y":-5.58},{"i":6,"x":0.28,"y":-5.61},{"i":7,"x":-1.06,"y":-5.26},{"i":8,"x":-1.94,"y":-4.55},{"i":9,"x":-2.18,"y":-3.55},{"i":10,"x":-1.65,"y":-2.56},{"i":11,"x":-0.61,"y":-2.03}]},
     "mark": {"type": "line", "color": "#1a1a1a", "strokeWidth": 1, "interpolate": "cardinal-closed"},
     "encoding": {"order": {"field": "i", "type": "quantitative"}}},
    {"data": {"values": [{"x":0.52,"y":-3.73}]},
     "mark": {"type": "circle", "size": 60, "color": "black", "opacity": 1}}
  ]
},
{
  "width": 131, "height": 131,
  "encoding": {
    "x": {"field": "x", "type": "quantitative", "scale": {"domain": [-3.95, 1.58], "nice": false, "zero": false}, "axis": null},
    "y": {"field": "y", "type": "quantitative", "scale": {"domain": [-8.65, 5.38], "nice": false, "zero": false}, "axis": null}
  },
  "layer": [
    {"data": {"values": [{"x":0.23,"y":4.63},{"x":-3.74,"y":-2.86},{"x":-2.3,"y":-3.47},{"x":-1.77,"y":-1.79},{"x":-1.73,"y":-2.22},{"x":-1.63,"y":-4.47},{"x":-1.07,"y":-5.54},{"x":-0.9,"y":-5.68},{"x":-0.06,"y":-4.18},{"x":-0.04,"y":-4.79},{"x":0.42,"y":-6.43},{"x":0.55,"y":-4.65},{"x":0.66,"y":-4.82},{"x":0.73,"y":-0.51},{"x":1.18,"y":-3.75},{"x":1.28,"y":-3.65},{"x":1.39,"y":-1.87},{"x":-0.69,"y":-8.36},{"x":-0.06,"y":-3.9},{"x":-0.3,"y":-3.9}]},
     "mark": {"type": "circle", "size": 18, "color": "#4A86C8", "opacity": 1}},
    {"data": {"values": [{"x":-3.74,"y":-2.86},{"x":-2.3,"y":-3.47},{"x":-1.77,"y":-1.79},{"x":-1.73,"y":-2.22},{"x":-1.63,"y":-4.47},{"x":-1.07,"y":-5.54},{"x":-0.9,"y":-5.68},{"x":-0.69,"y":-3.9},{"x":-0.09,"y":-3.9},{"x":0.42,"y":-6.43},{"x":0.55,"y":-4.9},{"x":0.66,"y":-4.8},{"x":0.73,"y":-0.51},{"x":1.18,"y":-3.65},{"x":1.29,"y":-3.65},{"x":1.39,"y":-1.87}]},
     "mark": {"type": "line", "color": "#1a1a1a", "strokeWidth": 1}},
    {"data": {"values": [{"i":0,"x":0.76,"y":-3.78},{"i":1,"x":0.63,"y":-2.83},{"i":2,"x":0.275,"y":-2.135},{"i":3,"x":-0.21,"y":-1.88},{"i":4,"x":-0.695,"y":-2.135},{"i":5,"x":-1.05,"y":-2.83},{"i":6,"x":-1.18,"y":-3.78},{"i":7,"x":-1.05,"y":-4.73},{"i":8,"x":-0.695,"y":-5.425},{"i":9,"x":-0.21,"y":-5.68},{"i":10,"x":0.275,"y":-5.425},{"i":11,"x":0.63,"y":-4.73}]},
     "mark": {"type": "line", "color": "#1a1a1a", "strokeWidth": 1, "interpolate": "cardinal-closed"},
     "encoding": {"order": {"field": "i", "type": "quantitative"}}},
    {"data": {"values": [{"x":-0.22,"y":-3.75}]},
     "mark": {"type": "circle", "size": 60, "color": "black", "opacity": 1}}
  ]
},
{
  "width": 131, "height": 131,
  "layer": [
    {"data": {"values": [{"x":-10,"x2":-8,"y":1},{"x":-8,"x2":-6,"y":1},{"x":-6,"x2":-4,"y":7},{"x":-4,"x2":-2,"y":26},{"x":-2,"x2":0,"y":3},{"x":4,"x2":6,"y":1}]},
     "mark": {"type": "bar", "fill": "#EDE13E", "stroke": "#333333", "strokeWidth": 1, "clip": true},
     "encoding": {
       "x": {"field": "x", "type": "quantitative", "scale": {"domain": [-8.8, 5.2], "nice": false, "zero": false}, "axis": {"orient": "bottom", "values": [-8,-6,-4,-2,0,2,4], "labelExpr": "datum.value == -6 || datum.value == -2 ? '' : datum.value + ''"}},
       "x2": {"field": "x2"},
       "y": {"field": "y", "type": "quantitative", "scale": {"domain": [0, 39], "nice": false, "zero": false}, "axis": null},
       "y2": {"datum": 0}}},
    {"data": {"values": [{"x":-1.8,"y":2.62,"label":"ANRIL Blood"}]},
     "mark": {"type": "text", "fontSize": 20.5, "color": "black"},
     "encoding": {
       "x": {"field": "x", "type": "quantitative"},
       "y": {"field": "y", "type": "quantitative", "scale": {"domain": [-8.65, 5.38], "nice": false, "zero": false}, "axis": {"orient": "right", "values": [-8,-6,-4,-2,0,2,4], "labelAngle": -90, "labelAlign": "center", "labelBaseline": "top", "labelExpr": "datum.value == -6 || datum.value == -2 ? '' : datum.value + ''"}},
       "text": {"field": "label", "type": "nominal"}}}
  ],
  "resolve": {"scale": {"y": "independent"}, "axis": {"y": "independent"}}
}
]
}
